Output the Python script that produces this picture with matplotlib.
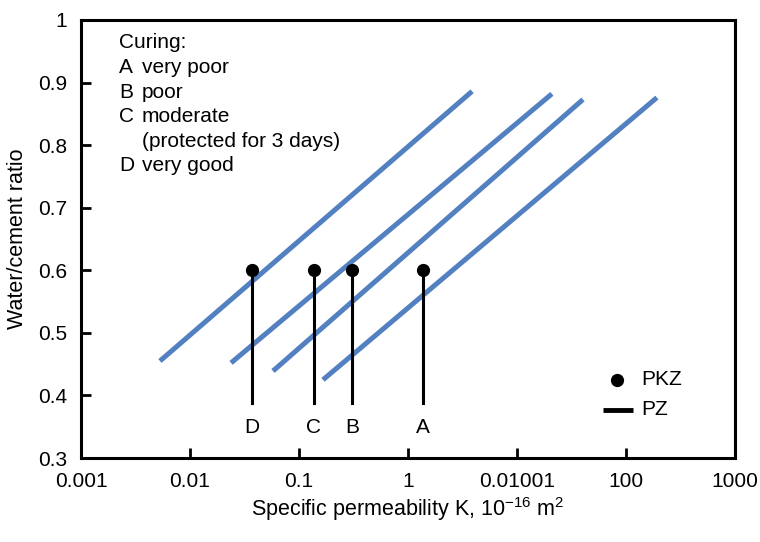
import matplotlib
matplotlib.use('Agg')
import matplotlib.pyplot as plt
import numpy as np

plt.rcParams['font.family'] = ['Liberation Sans', 'DejaVu Sans']
plt.rcParams['mathtext.fontset'] = 'custom'
plt.rcParams['mathtext.rm'] = 'Liberation Sans'
plt.rcParams['mathtext.default'] = 'regular'
plt.rcParams.update({'font.size': 15})

# PZ lines (water/cement ratio vs permeability), start and end points
curing = ['D', 'C', 'B', 'A']
k_start = [0.0053, 0.0238, 0.0577, 0.166]
k_end = [3.87, 20.9, 40.3, 192.0]
wc_start = [0.455, 0.452, 0.439, 0.425]
wc_end = [0.886, 0.882, 0.873, 0.876]

# PKZ points
k_pkz = [0.037, 0.137, 0.306, 1.37]
wc_pkz = [0.6, 0.6, 0.6, 0.6]
stem_bottom = 0.388
label_y = 0.348

# note block
note_keys = ['', 'A', 'B', 'C', '', 'D']
note_text = ['Curing:', 'very poor', 'poor', 'moderate', '(protected for 3 days)', 'very good']

xticks = [0.001, 0.01, 0.1, 1, 10, 100, 1000]
xticklabels = ['0.001', '0.01', '0.1', '1', '0.01001', '100', '1000']
yticks = [0.3, 0.4, 0.5, 0.6, 0.7, 0.8, 0.9, 1.0]
yticklabels = ['0.3', '0.4', '0.5', '0.6', '0.7', '0.8', '0.9', '1']

blue = '#5280c0'

fig = plt.figure(figsize=(7.6, 5.42), dpi=100)
ax = fig.add_axes([81/760, 1-458/542, (735-81)/760, (458-20)/542])

for i in range(len(curing)):
    ax.plot([k_start[i], k_end[i]], [wc_start[i], wc_end[i]], color=blue, lw=3.6,
            solid_capstyle='butt')

for i in range(len(curing)):
    ax.plot([k_pkz[i], k_pkz[i]], [stem_bottom, wc_pkz[i]], color='black', lw=2.2)
    ax.plot(k_pkz[i], wc_pkz[i], 'o', color='black', ms=8.5)
    ax.text(k_pkz[i], label_y, curing[i], ha='center', va='center', fontsize=15)

# legend drawn by hand
ax.plot(82.6, 0.425, 'o', color='black', ms=8.5)
ax.plot([61, 115], [0.377, 0.377], color='black', lw=3.5, solid_capstyle='butt')
ax.text(138, 0.425, 'PKZ', va='center', fontsize=15)
ax.text(138, 0.377, 'PZ', va='center', fontsize=15)

# curing note, one line per entry (baselines in axes fraction)
note_y = [0.936, 0.879, 0.823, 0.767, 0.711, 0.655]
for i in range(len(note_text)):
    if note_keys[i]:
        ax.text(0.058, note_y[i], note_keys[i], transform=ax.transAxes, va='baseline', fontsize=15)
    x0 = 0.058 if i == 0 else 0.093
    ax.text(x0, note_y[i], note_text[i], transform=ax.transAxes, va='baseline', fontsize=15)

ax.set_xscale('log')
ax.set_xlim(0.001, 1000)
ax.set_ylim(0.3, 1.0)
ax.set_xticks(xticks)
ax.set_xticklabels(xticklabels)
ax.minorticks_off()
ax.set_yticks(yticks)
ax.set_yticklabels(yticklabels)
ax.tick_params(direction='in', length=7, width=2, labelsize=15, pad=10)
for s in ax.spines.values():
    s.set_linewidth(2.2)

ax.set_xlabel('Specific permeability K, 10$^{-16}$ m$^2$', fontsize=15.5, labelpad=3)
ax.set_ylabel('Water/cement ratio', fontsize=15.5, labelpad=7)

fig.savefig('out.png', dpi=100)
